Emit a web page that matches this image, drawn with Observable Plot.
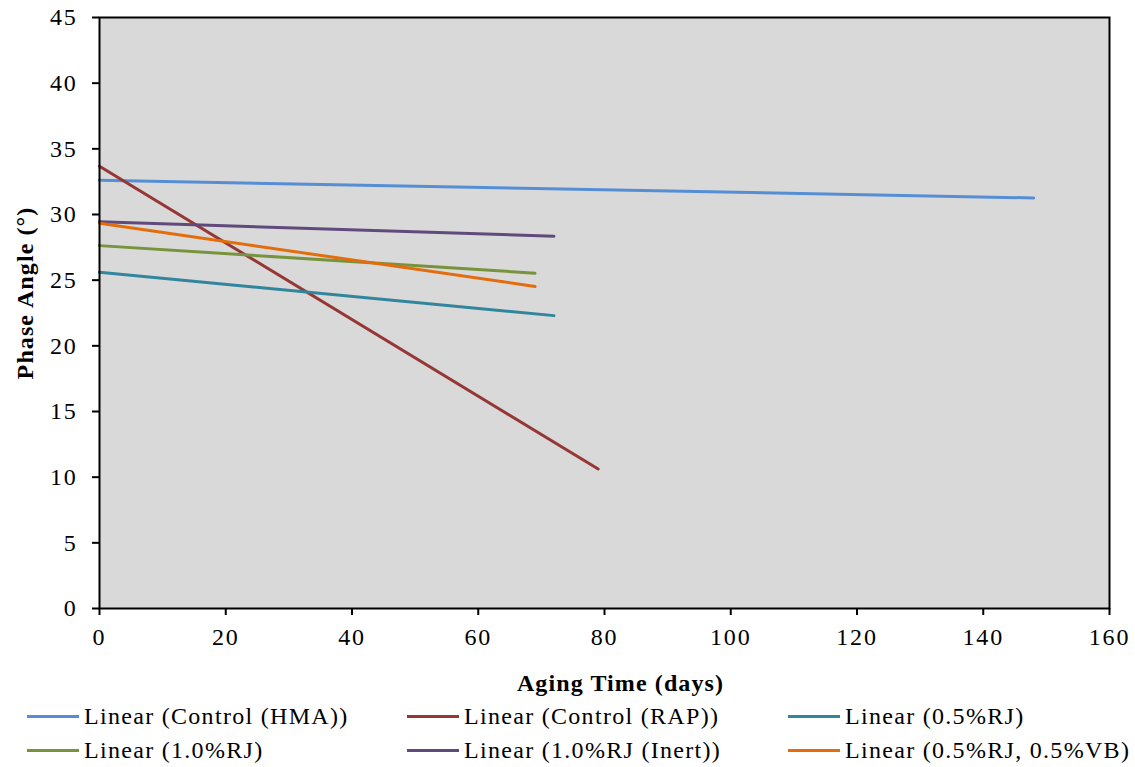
<!DOCTYPE html>
<html>
<head>
<meta charset="utf-8">
<script src="https://cdn.jsdelivr.net/npm/d3@7"></script>
<script src="https://cdn.jsdelivr.net/npm/@observablehq/plot@0.6"></script>
<style>
  html, body { margin: 0; padding: 0; background: #fff; }
  #wrap { position: relative; width: 1135px; height: 767px; font-family: "Liberation Serif", "DejaVu Serif", serif; }
  #chart svg, #chart svg text { font-family: "Liberation Serif", "DejaVu Serif", serif !important; }
  g[aria-label="x-axis tick label"] text, g[aria-label="y-axis tick label"] text { font-size: 24px; letter-spacing: 1.8px; fill: #000; }
  g[aria-label="text"] text { letter-spacing: 1.1px; }
  #legend { position: absolute; left: 0; top: 700px; width: 1135px; font-size: 24px; letter-spacing: 1.3px; color: #000; }
  .item { position: absolute; display: flex; align-items: center; height: 32px; white-space: nowrap; }
  .swatch { width: 52px; height: 3px; margin-right: 5px; }
</style>
</head>
<body>
<div id="wrap"><div id="chart"></div><div id="legend"></div></div>
<script>
const series = ["Linear (Control (HMA))", "Linear (Control (RAP))", "Linear (0.5%RJ)", "Linear (1.0%RJ)", "Linear (1.0%RJ (Inert))", "Linear (0.5%RJ, 0.5%VB)"];
const colors = ["#558ed5", "#953735", "#31859c", "#77933c", "#604a7b", "#e46c0a"];
const startDay = [0, 0, 0, 0, 0, 0];
const endDay = [148, 79, 72, 69, 72, 69];
const startAngle = [32.6, 33.67, 25.6, 27.63, 29.45, 29.33];
const endAngle = [31.26, 10.62, 22.3, 25.53, 28.35, 24.52];
const xTicks = [0, 20, 40, 60, 80, 100, 120, 140, 160];
const yTicks = [0, 5, 10, 15, 20, 25, 30, 35, 40, 45];
const xTitle = "Aging Time (days)";
const yTitle = "Phase Angle (°)";

const data = [];
series.forEach((s, i) => {
  data.push({series: s, day: startDay[i], angle: startAngle[i]});
  data.push({series: s, day: endDay[i], angle: endAngle[i]});
});

const chart = Plot.plot({
  width: 1135,
  height: 700,
  marginLeft: 99,
  marginRight: 26,
  marginTop: 17,
  marginBottom: 92,
  style: {fontFamily: "'Liberation Serif', serif", fontSize: "24px", color: "#000", background: "#fff"},
  x: {domain: [0, 160]},
  y: {domain: [0, 45]},
  color: {domain: series, range: colors},
  marks: [
    Plot.frame({fill: "#d9d9d9", stroke: null}),
    Plot.line(data, {x: "day", y: "angle", z: "series", stroke: "series", strokeWidth: 3}),
    Plot.frame({stroke: "#000", strokeWidth: 2}),
    Plot.axisX({ticks: xTicks, tickSize: 7, tickPadding: 12, stroke: "#000", strokeWidth: 2, fontSize: 24, tickFormat: d => String(d), label: null}),
    Plot.axisY({ticks: yTicks, tickSize: 7, tickPadding: 15, stroke: "#000", strokeWidth: 2, fontSize: 24, tickFormat: d => String(d), label: null}),
    Plot.text([xTitle], {frameAnchor: "bottom", textAnchor: "middle", lineAnchor: "middle", dy: 75, dx: 16, fontWeight: "bold", fontSize: 24, fill: "#000"}),
    Plot.text([yTitle], {frameAnchor: "left", textAnchor: "middle", lineAnchor: "middle", rotate: -90, dx: -74, dy: -20, fontWeight: "bold", fontSize: 24, fill: "#000"})
  ]
});
document.getElementById("chart").appendChild(chart);

const lefts = [27, 407, 788];
const tops = [0, 34];
const legend = document.getElementById("legend");
series.forEach((s, i) => {
  const it = document.createElement("div");
  it.className = "item";
  it.style.left = lefts[i % 3] + "px";
  it.style.top = tops[Math.floor(i / 3)] + "px";
  const sw = document.createElement("span");
  sw.className = "swatch";
  sw.style.background = colors[i];
  const tx = document.createElement("span");
  tx.textContent = s;
  it.appendChild(sw);
  it.appendChild(tx);
  legend.appendChild(it);
});
</script>
</body>
</html>
